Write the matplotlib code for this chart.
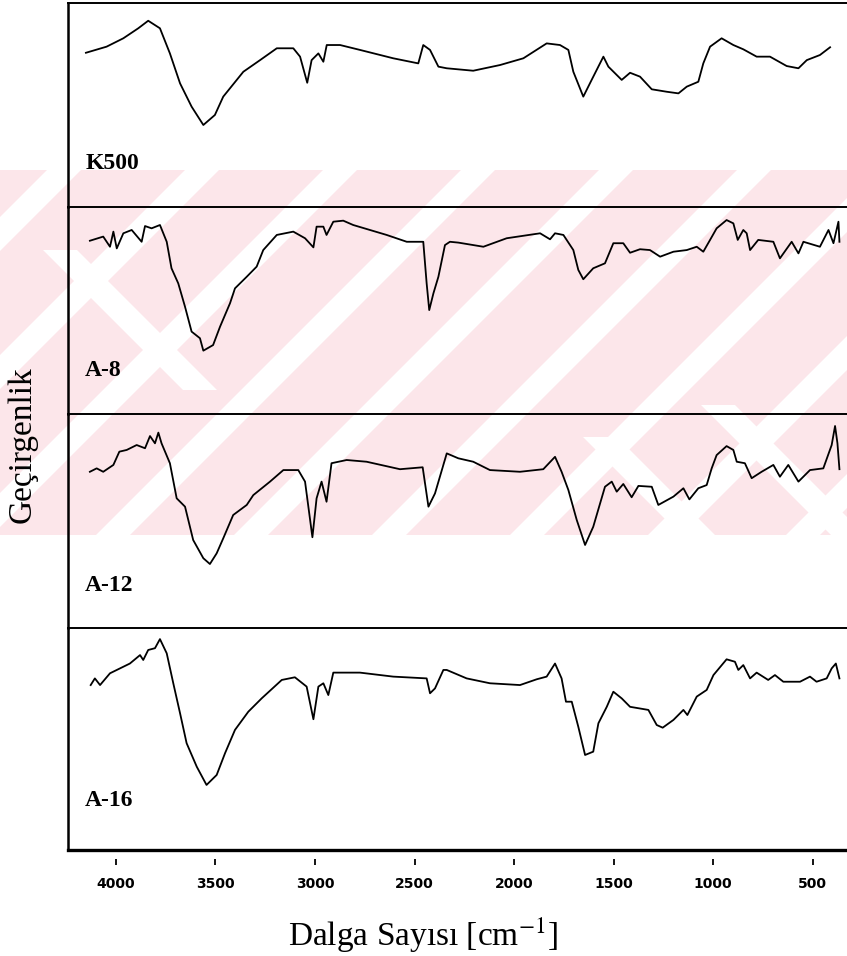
import matplotlib
matplotlib.use("Agg")
import matplotlib.pyplot as plt
from matplotlib.patches import Polygon, Rectangle

plt.rcParams['mathtext.fontset'] = 'stix'

# FTIR spectra: wavenumber (cm-1) and transmittance (arbitrary %, per panel)
k500_wn = [4151, 4047, 3963, 3888, 3838, 3779, 3729, 3678, 3620, 3561, 3503, 3461,
           3360, 3276, 3192, 3109, 3075, 3039, 3017, 2983, 2958, 2941, 2874, 2774,
           2607, 2481, 2456, 2422, 2380, 2338, 2205, 2070, 1953, 1836, 1769, 1727,
           1702, 1652, 1610, 1551, 1526, 1459, 1417, 1367, 1308, 1233, 1174, 1132,
           1074, 1049, 1015, 957, 898, 848, 781, 714, 630, 571, 529, 463, 412]
k500_t = [75.6, 78.6, 82.7, 87.6, 91.3, 87.6, 75.3, 60.6, 49.2, 40.2, 45.1, 54.1,
          66.3, 72.0, 77.8, 77.8, 73.7, 60.9, 72.0, 75.3, 71.2, 79.4, 79.4, 77.0,
          72.9, 70.4, 79.4, 77.0, 68.8, 68.0, 66.8, 69.6, 72.9, 80.2, 79.4, 77.0,
          66.3, 54.1, 62.3, 73.7, 68.8, 62.3, 65.8, 63.9, 57.7, 56.5, 55.7, 59.0,
          61.4, 70.4, 78.6, 82.7, 79.4, 77.3, 73.7, 73.7, 69.1, 68.0, 72.0, 74.5, 78.3]

a8_wn = [4131, 4064, 4030, 4013, 3996, 3963, 3921, 3871, 3854, 3821, 3779, 3745,
         3721, 3687, 3653, 3620, 3578, 3561, 3512, 3477, 3427, 3402, 3343, 3293,
         3260, 3192, 3109, 3050, 3008, 2992, 2958, 2942, 2908, 2858, 2808, 2724,
         2640, 2539, 2456, 2439, 2426, 2405, 2380, 2347, 2322, 2280, 2154, 2037,
         1869, 1819, 1794, 1752, 1702, 1677, 1652, 1602, 1543, 1501, 1451, 1417,
         1367, 1317, 1266, 1199, 1132, 1082, 1049, 1015, 982, 932, 898, 876, 848,
         831, 814, 773, 697, 664, 605, 571, 546, 463, 420, 395, 370, 365]
a8_t = [83.7, 85.7, 80.8, 88.1, 80.0, 87.3, 88.9, 83.2, 90.8, 89.7, 91.3, 83.2,
        70.4, 63.1, 51.8, 39.8, 36.6, 30.6, 33.3, 42.2, 53.5, 60.7, 66.3, 71.2,
        79.2, 86.5, 88.1, 84.9, 80.5, 90.5, 90.5, 86.5, 92.9, 93.4, 91.3, 88.9,
        86.5, 83.2, 83.2, 63.1, 50.2, 58.3, 66.3, 81.6, 83.2, 82.8, 80.8, 84.9,
        87.3, 84.4, 87.3, 86.5, 79.2, 69.6, 65.1, 70.4, 72.8, 82.5, 82.5, 77.9,
        79.6, 79.2, 76.0, 78.4, 79.2, 80.8, 78.4, 84.1, 89.7, 93.7, 92.1, 84.1, 88.9,
        87.3, 79.2, 84.1, 83.2, 75.2, 83.2, 77.6, 83.2, 80.8, 88.9, 82.5, 92.9, 83.2]

a12_wn = [4131, 4097, 4064, 4013, 3983, 3946, 3896, 3854, 3829, 3804, 3787, 3771,
          3729, 3695, 3653, 3612, 3561, 3528, 3494, 3461, 3411, 3343, 3310, 3226,
          3159, 3084, 3050, 3013, 2992, 2967, 2942, 2917, 2841, 2741, 2573, 2459,
          2430, 2397, 2338, 2280, 2205, 2121, 1970, 1853, 1794, 1761, 1727, 1685,
          1643, 1602, 1543, 1509, 1484, 1451, 1409, 1375, 1308, 1275, 1199, 1149,
          1119, 1074, 1032, 1007, 982, 932, 898, 881, 840, 806, 756, 697, 664, 622,
          571, 513, 446, 404, 387, 375, 365]
a12_t = [73.0, 74.6, 73.0, 76.2, 82.4, 83.2, 85.5, 84.0, 89.7, 86.3, 91.3, 86.3,
         77.0, 60.6, 56.7, 41.1, 32.6, 29.9, 34.9, 41.9, 52.8, 57.5, 62.1, 68.4,
         73.8, 73.8, 68.4, 42.4, 60.6, 68.4, 59.0, 77.0, 78.5, 77.7, 74.2, 75.1,
         56.7, 62.9, 81.6, 79.3, 77.7, 73.8, 73.0, 74.2, 80.0, 73.0, 64.5, 50.5,
         38.8, 47.3, 66.0, 68.4, 63.7, 67.3, 61.1, 66.4, 66.0, 57.5, 61.4, 65.3,
         60.1, 65.3, 66.8, 74.6, 80.8, 85.0, 83.2, 77.7, 77.0, 70.0, 73.0, 76.2, 70.7, 76.2,
         68.4, 73.8, 74.6, 85.5, 94.4, 86.3, 74.2]

a16_wn = [4127, 4106, 4080, 4030, 3980, 3930, 3879, 3863, 3838, 3804, 3779, 3745,
          3712, 3678, 3645, 3594, 3545, 3494, 3452, 3402, 3335, 3268, 3167, 3101,
          3042, 3008, 2983, 2958, 2933, 2908, 2774, 2607, 2439, 2422, 2397, 2355,
          2338, 2238, 2121, 1970, 1886, 1836, 1794, 1761, 1739, 1710, 1677, 1643,
          1602, 1576, 1534, 1501, 1459, 1417, 1325, 1283, 1253, 1199, 1149, 1129,
          1082, 1032, 998, 932, 890, 873, 848, 814, 781, 723, 689, 647, 563, 513,
          480, 429, 404, 383, 365]
a16_t = [74.3, 77.3, 74.3, 79.6, 81.8, 84.0, 87.8, 85.6, 90.1, 90.9, 95.0, 88.6,
         75.1, 61.6, 48.1, 37.5, 29.3, 33.8, 43.6, 54.1, 62.3, 68.3, 76.6, 77.8,
         73.6, 58.9, 73.6, 75.1, 69.8, 79.9, 79.9, 78.1, 77.3, 70.6, 72.8, 81.1,
         81.1, 77.3, 75.1, 74.3, 76.9, 78.1, 84.0, 77.3, 66.8, 66.8, 55.5, 42.8,
         44.3, 57.1, 64.5, 71.3, 68.3, 64.5, 63.1, 56.3, 55.1, 58.6, 63.1, 60.8,
         69.1, 72.1, 78.8, 85.9, 84.8, 81.1, 83.3, 77.3, 79.9, 76.6, 78.8, 75.8, 75.8, 78.1,
         75.8, 77.3, 81.8, 84.0, 77.3]

labels = ["K500", "A-8", "A-12", "A-16"]
wavenumbers = [k500_wn, a8_wn, a12_wn, a16_wn]
transmittance = [k500_t, a8_t, a12_t, a16_t]
label_height = [0.215, 0.21, 0.20, 0.225]
x_ticks = [4000, 3500, 3000, 2500, 2000, 1500, 1000, 500]

W, H = 847, 956
fig = plt.figure(figsize=(W / 100, H / 100), dpi=100)

# light pink background stamp behind the panels
bg = fig.add_axes([0, 0, 1, 1], zorder=-1)
bg.set_xlim(0, W)
bg.set_ylim(H, 0)
bg.axis("off")
pink = "#fce6ea"
y0, y1 = 170, 535
bg.add_patch(Rectangle((0, y0), W, y1 - y0, color=pink, lw=0))


def stripe(c, ya, yb, sign, width=34):
    # white band along x + y = c (sign=1) or x - y = c (sign=-1)
    xa, xb = c - sign * ya, c - sign * yb
    return Polygon([(xa - width / 2, ya), (xa + width / 2, ya),
                    (xb + width / 2, yb), (xb - width / 2, yb)],
                   color="white", lw=0)


for c in range(234, 1400, 138):
    bg.add_patch(stripe(c, y0, y1, 1))
bg.add_patch(stripe(-190, 250, 390, -1))
bg.add_patch(stripe(163, 437, y1, -1))
bg.add_patch(stripe(313, 405, y1, -1))

left, right = 68, W
edges = [3, 207, 414, 628, 850]
axes = []
for i in range(4):
    top, bot = edges[i], edges[i + 1]
    ax = fig.add_axes([left / W, 1 - bot / H, (right - left) / W, (bot - top) / H])
    ax.set_facecolor("none")
    ax.plot(wavenumbers[i], transmittance[i], color="black", lw=1.3)
    ax.set_xlim(4241, 327)
    ax.set_ylim(0, 100)
    ax.tick_params(bottom=False, labelbottom=False, left=False, labelleft=False)
    ax.spines["right"].set_visible(False)
    ax.spines["bottom"].set_visible(i == 3)
    ax.spines["bottom"].set_linewidth(2.4)
    ax.spines["top"].set_linewidth(1.4)
    ax.spines["left"].set_linewidth(1.8)
    ax.text(0.022, label_height[i], labels[i], transform=ax.transAxes,
            family="Liberation Serif", fontweight="bold", fontsize=17, va="center")
    axes.append(ax)

# detached tick row under the bottom panel
sec = axes[-1].secondary_xaxis(-9 / 222)
sec.spines["bottom"].set_visible(False)
sec.set_xticks(x_ticks)
sec.tick_params(direction="out", length=4, width=1.3, pad=9)
for t in sec.get_xticklabels():
    t.set_family(["Liberation Sans Narrow", "DejaVu Sans"])
    t.set_fontweight("heavy")
    t.set_fontsize(10)

fig.text(423 / W, 1 - 935 / H, "Dalga Sayısı [cm$^{-1}$]", family="Liberation Serif",
         fontsize=24, ha="center", va="center")
fig.text(22 / W, 1 - 445 / H, "Geçirgenlik", family="Liberation Serif",
         fontsize=24, rotation=90, ha="center", va="center")

fig.savefig("out.png", dpi=100)
